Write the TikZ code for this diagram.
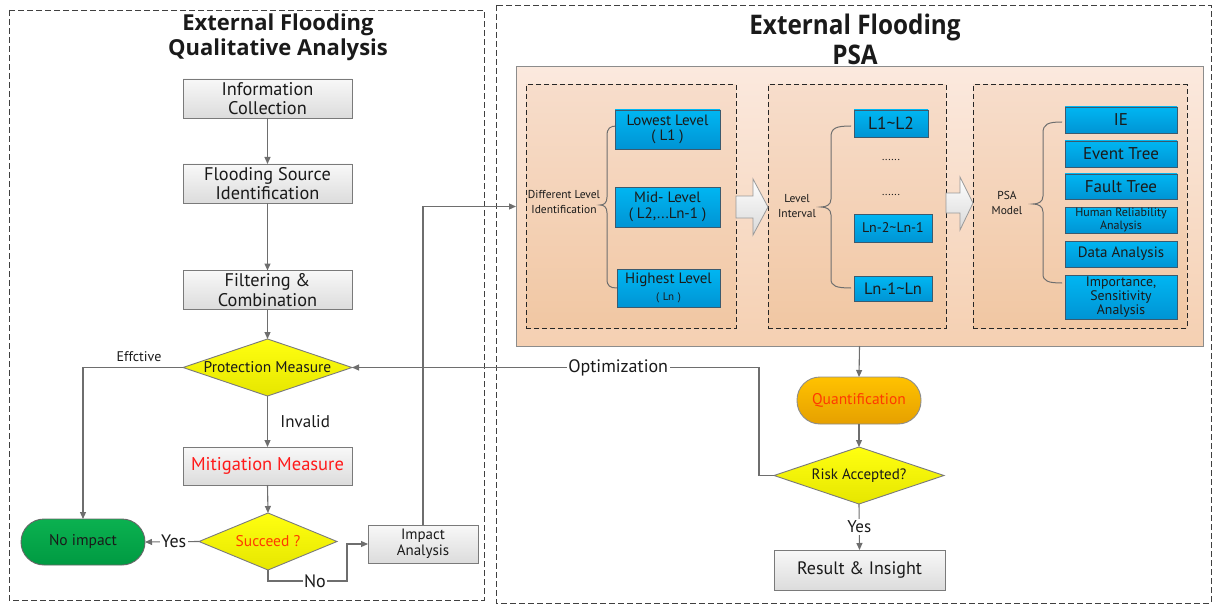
\documentclass[tikz,border=0pt]{standalone}
\usepackage{fontspec}
\setmainfont{PT Sans}
\newfontfamily\titlefont{Open Sans}
\usetikzlibrary{shapes.geometric,arrows.meta,calc}
\definecolor{linecol}{HTML}{6E6E6E}
\definecolor{boxline}{HTML}{7A7A7A}
\definecolor{gtop}{HTML}{F8F8F8}
\definecolor{gbot}{HTML}{DCDCDC}
\definecolor{ytop}{HTML}{FFFF10}
\definecolor{ybot}{HTML}{E6E600}
\definecolor{btop}{HTML}{00B6F2}
\definecolor{bbot}{HTML}{0094D4}
\definecolor{bline}{HTML}{3C5A6E}
\definecolor{gntop}{HTML}{0BB150}
\definecolor{gnbot}{HTML}{009A42}
\definecolor{otop}{HTML}{FFC200}
\definecolor{obot}{HTML}{E6A000}
\definecolor{ptop}{HTML}{FBE9DE}
\definecolor{pbot}{HTML}{F5D0B2}
\definecolor{itop}{HTML}{F7DDCB}
\definecolor{ibot}{HTML}{F1C7A3}
\definecolor{txt}{HTML}{1A1A1A}
\definecolor{redtxt}{HTML}{FF1A1A}
\definecolor{orred}{HTML}{FF3A00}
\newcommand\fsz[2]{\fontsize{#1}{#2}\selectfont}
\begin{document}
\begin{tikzpicture}[x=1pt,y=-1pt,
  arr/.style={draw=linecol, line width=1.1pt, -{Triangle[length=7pt,width=6pt]}},
  graybox/.style={draw=boxline, line width=0.9pt, top color=gtop, bottom color=gbot, align=center, inner sep=0pt, outer sep=0pt, text=txt},
  bluebox/.style={draw=bline, line width=0.9pt, top color=btop, bottom color=bbot, align=center, inner sep=0pt, outer sep=0pt, text=txt},
  dia/.style={diamond, draw=boxline, line width=0.9pt, top color=ytop, bottom color=ybot, inner sep=0pt, outer sep=0pt},
  panel/.style={draw=black!75, dash pattern=on 6pt off 3pt, line width=0.8pt},
  innerbox/.style={draw=black!85, dash pattern=on 5pt off 3pt, line width=1pt, top color=itop, bottom color=ibot, inner sep=0pt, outer sep=0pt},
  lbl/.style={fill=white, inner sep=1.5pt, text=txt},
  brace/.style={draw=linecol, line width=1pt},
  blockarrow/.style={draw=black!40, line width=0.8pt, top color=white, bottom color=black!15}
]
\useasboundingbox (0,0) rectangle (1214,604);
% panels
\draw[panel] (9,10) rectangle (484,600);
\draw[panel] (496,5) rectangle (1211,603);
% titles
\node[font=\titlefont\bfseries\fsz{22}{25}, align=center, text=txt] (ltitle) at (278,37) {External Flooding\\Qualitative Analysis};
\node[font=\titlefont\bfseries\fsz{27}{30}, align=center, text=txt, xscale=0.9, transform shape] (rtitle) at (855,39) {External Flooding\\PSA};
% PSA outer
\node[draw=black!45, line width=1pt, top color=ptop, bottom color=pbot, minimum width=687pt, minimum height=279pt, inner sep=0pt, outer sep=0pt] (psa) at (859.5,206.5) {};
\node[innerbox, minimum width=210pt, minimum height=243pt] (d1) at (631,206.5) {};
\node[innerbox, minimum width=178pt, minimum height=243pt] (d2) at (857,206.5) {};
\node[innerbox, minimum width=214pt, minimum height=243pt] (d3) at (1080,206.5) {};
% block arrows
\draw[blockarrow] (736,196) -- (753,196) -- (753,179) -- (768,207) -- (753,235) -- (753,218) -- (736,218) -- cycle;
\draw[blockarrow] (946,193) -- (960,193) -- (960,177) -- (973,203) -- (960,230) -- (960,213) -- (946,213) -- cycle;
% braces
\draw[brace] (617,126) .. controls (610,126) and (607,128) .. (607,136) -- (607,197) .. controls (607,203) and (604,205) .. (600,205) .. controls (604,205) and (607,207) .. (607,213) -- (607,279) .. controls (607,286) and (610,288) .. (617,288);
\draw[brace] (851,126) .. controls (836,126) and (831,128) .. (831,137) -- (831,199) .. controls (831,205) and (826,207) .. (821,207) .. controls (826,207) and (831,209) .. (831,215) -- (831,279) .. controls (831,286) and (836,288) .. (851,288);
\draw[brace] (1062,122) .. controls (1048,122) and (1043,124) .. (1043,133) -- (1043,196) .. controls (1043,202) and (1038,204) .. (1033,204) .. controls (1038,204) and (1043,206) .. (1043,212) -- (1043,274) .. controls (1043,281) and (1048,283) .. (1062,283);
% side texts
\node[font=\fsz{11.5}{14.5}, align=center, text=txt] (diff) at (564,202) {Different Level\\Identification};
\node[font=\fsz{11.5}{14.5}, align=center, text=txt] (lint) at (797,206) {Level\\Interval};
\node[font=\fsz{11.5}{14.5}, align=center, text=txt] (pmod) at (1007,203) {PSA\\Model};
% blue boxes col 1
\node[bluebox, minimum width=105pt, minimum height=39pt, font=\fsz{15}{15.5}] (low) at (667.5,129.5) {Lowest Level\\( L1 )};
\node[bluebox, minimum width=105pt, minimum height=40pt, font=\fsz{15}{15.5}] (mid) at (667.5,207) {Mid- Level\\( L2,...Ln-1 )};
\node[bluebox, minimum width=103pt, minimum height=38pt, font=\fsz{15}{17}] (high) at (668.5,288) {Highest Level\\{\fsz{11}{12}(\,\,Ln\,\,)}};
% col 2
\node[bluebox, minimum width=74pt, minimum height=27pt, font=\fsz{17.5}{18}] (l12) at (891,123.5) {L1\textasciitilde L2};
\node[font=\fsz{11}{12}, text=txt] (dots1) at (891,160) {......};
\node[font=\fsz{11}{12}, text=txt] (dots2) at (891,195) {......};
\node[bluebox, minimum width=78pt, minimum height=28pt, font=\fsz{14}{15}] (ln2) at (893,228) {Ln-2\textasciitilde Ln-1};
\node[bluebox, minimum width=78pt, minimum height=25pt, font=\fsz{16.5}{17}] (ln1) at (893,289) {Ln-1\textasciitilde Ln};
% col 3
\node[bluebox, minimum width=112pt, minimum height=26pt, font=\fsz{17}{18}] (ie) at (1121,120) {IE};
\node[bluebox, minimum width=112pt, minimum height=26pt, font=\fsz{17}{18}] (et) at (1121,154) {Event Tree};
\node[bluebox, minimum width=112pt, minimum height=25pt, font=\fsz{17}{18}] (ft) at (1121,186.5) {Fault Tree};
\node[bluebox, minimum width=112pt, minimum height=26pt, font=\fsz{12}{12.5}] (hra) at (1121,220) {Human Reliability\\Analysis};
\node[bluebox, minimum width=112pt, minimum height=26pt, font=\fsz{15}{16}] (da) at (1121,254) {Data Analysis};
\node[bluebox, minimum width=112pt, minimum height=44pt, font=\fsz{13.8}{14.3}] (imps) at (1121,297) {Importance,\\Sensitivity\\Analysis};
% left flow
\node[graybox, minimum width=169pt, minimum height=39pt, font=\fsz{18.3}{19.5}] (info) at (267.5,98.5) {Information\\Collection};
\node[graybox, minimum width=169pt, minimum height=39pt, font=\fsz{18.3}{19.5}] (src) at (267.5,183.5) {Flooding Source\\Identification};
\node[graybox, minimum width=169pt, minimum height=39pt, font=\fsz{18.3}{19.5}] (filt) at (267.5,290) {Filtering \&\\Combination};
\node[dia, minimum width=169pt, minimum height=57pt, label={[font=\fsz{15.5}{16}, text=txt]center:Protection Measure}] (prot) at (267.5,367.5) {};
\node[graybox, minimum width=169pt, minimum height=38pt, font=\fsz{18.5}{20}, text=redtxt] (mit) at (267.5,466) {Mitigation Measure};
\node[dia, minimum width=138pt, minimum height=57pt, label={[font=\fsz{15.5}{16}, text=orred]center:Succeed ?}] (succ) at (268,541.5) {};
\node[draw=black!60, line width=0.9pt, top color=gntop, bottom color=gnbot, rounded corners=23pt, minimum width=124pt, minimum height=46pt, inner sep=0pt, outer sep=0pt, font=\fsz{15.5}{16}, text=txt] (noimp) at (83,542) {No impact};
\node[graybox, minimum width=110pt, minimum height=38pt, font=\fsz{15}{16}] (imp) at (423,544) {Impact\\Analysis};
% right flow
\node[draw=black!45, line width=0.9pt, top color=otop, bottom color=obot, rounded corners=23pt, minimum width=124pt, minimum height=47pt, inner sep=0pt, outer sep=0pt, font=\fsz{15.5}{16}, text=orred] (quant) at (859,400.5) {Quantification};
\node[dia, minimum width=170pt, minimum height=57pt, label={[font=\fsz{15}{16}, text=txt]center:Risk Accepted?}] (risk) at (859,475.5) {};
\node[graybox, minimum width=171pt, minimum height=40pt, font=\fsz{18}{19}] (res) at (859.5,570) {Result \& Insight};
% connectors
\draw[arr] (info.south) -- (src.north);
\draw[arr] (src.south) -- (filt.north);
\draw[arr] (filt.south) -- (prot.north);
\draw[arr] (prot.south) -- (mit.north) node[midway, right=9pt, font=\fsz{17}{18}, text=txt] {Invalid};
\draw[arr] (mit.south) -- (succ.north);
\draw[arr] (succ.west) -- (noimp.east) node[pos=0.47, lbl, font=\fsz{18}{19}] {Yes};
\draw[arr] (succ.south) -- ++(0,11) -| ([xshift=-21pt]imp.west) -- (imp.west);
\node[lbl, font=\fsz{18}{19}] (nolbl) at (315,581) {No};
\draw[arr] (prot.west) -| (noimp.north) node[pos=0.22, above=2pt, font=\fsz{14}{15}, text=txt] {Effctive};
\draw[arr] (imp.north) |- (psa.west);
\draw[arr] (risk.west) -- ++(-15,0) |- (prot.east) node[pos=0.673, lbl, font=\fsz{18}{19}] {Optimization};
\draw[arr] (psa.south) -- (quant.north);
\draw[arr] (quant.south) -- (risk.north);
\draw[arr] (risk.south) -- (res.north) node[midway, lbl, font=\fsz{17}{18}] {Yes};
\end{tikzpicture}
\end{document}
